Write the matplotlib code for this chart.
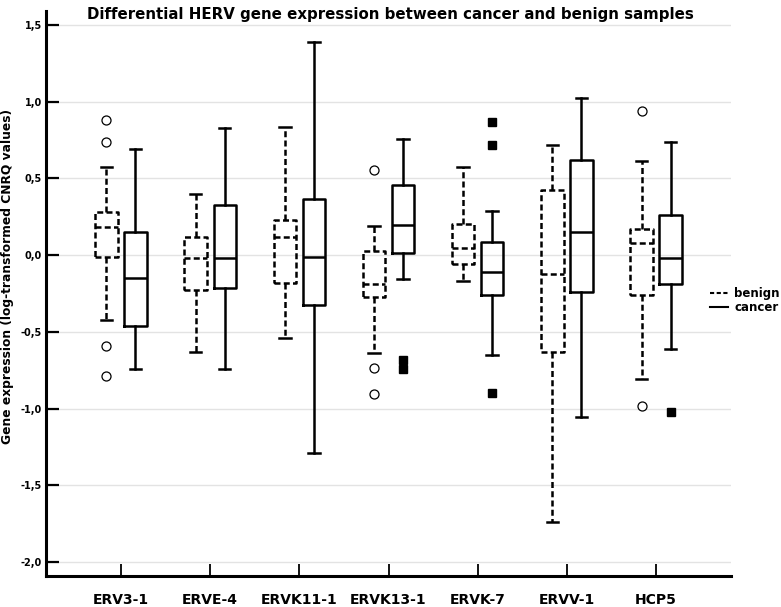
import matplotlib
matplotlib.use("Agg")
import matplotlib.pyplot as plt
from matplotlib.lines import Line2D
from matplotlib.ticker import FuncFormatter, MultipleLocator

# values
genes = ["ERV3-1", "ERVE-4", "ERVK11-1", "ERVK13-1", "ERVK-7", "ERVV-1", "HCP5"]

benign_whislo = [-0.42, -0.63, -0.54, -0.635, -0.17, -1.74, -0.81]
benign_q1 = [-0.013, -0.23, -0.18, -0.27, -0.057, -0.63, -0.26]
benign_med = [0.185, -0.02, 0.115, -0.19, 0.048, -0.12, 0.078]
benign_q3 = [0.283, 0.117, 0.23, 0.028, 0.204, 0.426, 0.172]
benign_whishi = [0.572, 0.396, 0.833, 0.187, 0.574, 0.716, 0.61]
benign_fliers = [[0.883, 0.737, -0.59, -0.79], [], [], [0.554, -0.733, -0.904],
                 [], [], [0.937, -0.98]]

cancer_whislo = [-0.741, -0.739, -1.29, -0.157, -0.65, -1.052, -0.611]
cancer_q1 = [-0.465, -0.215, -0.326, 0.015, -0.261, -0.243, -0.189]
cancer_med = [-0.146, -0.022, -0.013, 0.193, -0.109, 0.148, -0.02]
cancer_q3 = [0.15, 0.326, 0.367, 0.454, 0.085, 0.62, 0.259]
cancer_whishi = [0.69, 0.828, 1.39, 0.753, 0.285, 1.02, 0.735]
cancer_fliers = [[], [], [], [-0.68, -0.74], [0.87, 0.72, -0.896], [], [-1.024]]


def make_stats(lo, q1, med, q3, hi, fl):
    return [dict(whislo=a, q1=b, med=c, q3=d, whishi=e, fliers=f)
            for a, b, c, d, e, f in zip(lo, q1, med, q3, hi, fl)]


fig = plt.figure(figsize=(7.81, 6.07), dpi=100)
ax = fig.add_axes([0.0589, 0.0511, 0.8771, 0.9308])

dash = (0, (2.4, 1.3))
offset = 0.163
width = 0.25

benign_stats = make_stats(benign_whislo, benign_q1, benign_med, benign_q3,
                          benign_whishi, benign_fliers)
cancer_stats = make_stats(cancer_whislo, cancer_q1, cancer_med, cancer_q3,
                          cancer_whishi, cancer_fliers)

ax.bxp(benign_stats, positions=[i - offset for i in range(len(genes))],
       widths=width, manage_ticks=False,
       boxprops=dict(color="black", linewidth=1.8, linestyle=dash),
       whiskerprops=dict(color="black", linewidth=1.8, linestyle=dash),
       capprops=dict(color="black", linewidth=1.8),
       medianprops=dict(color="black", linewidth=1.8, linestyle=dash),
       flierprops=dict(marker="o", markersize=6.5, markerfacecolor="white",
                       markeredgecolor="black", markeredgewidth=0.9),
       capwidths=0.13)

ax.bxp(cancer_stats, positions=[i + offset for i in range(len(genes))],
       widths=width, manage_ticks=False,
       boxprops=dict(color="black", linewidth=1.8),
       whiskerprops=dict(color="black", linewidth=1.8),
       capprops=dict(color="black", linewidth=1.8),
       medianprops=dict(color="black", linewidth=1.8),
       flierprops=dict(marker="s", markersize=6, markerfacecolor="black",
                       markeredgecolor="black"),
       capwidths=0.13)

ax.set_xlim(-0.84, 6.84)
ax.set_ylim(-2.09, 1.59)
ax.yaxis.set_major_locator(MultipleLocator(0.5))
ax.yaxis.set_major_formatter(FuncFormatter(lambda v, p: f"{v:.1f}".replace(".", ",")))
ax.set_xticks(range(len(genes)))
ax.set_xticklabels(genes, fontsize=10, fontweight="bold")

ax.grid(axis="y", color="#e3e3e3", linewidth=1)
ax.set_axisbelow(True)
for s in ["top", "right"]:
    ax.spines[s].set_visible(False)
for s in ["left", "bottom"]:
    ax.spines[s].set_linewidth(2.2)

ax.tick_params(axis="y", direction="in", length=9.5, width=1.6, pad=3,
               labelsize=7)
for lab in ax.get_yticklabels():
    lab.set_fontweight("bold")
ax.tick_params(axis="x", direction="in", length=9, width=1.3, pad=12)

ax.set_ylabel("Gene expression (log-transformed CNRQ values)", fontsize=8.8,
              fontweight="bold")
ax.yaxis.set_label_coords(-0.046, 0.53)
fig.text(0.5, 0.988, "Differential HERV gene expression between cancer and benign samples",
         ha="center", va="top", fontsize=10.8, fontweight="bold")

handles = [Line2D([], [], color="black", linewidth=1.5, linestyle=(0, (2, 1.2))),
           Line2D([], [], color="black", linewidth=1.5)]
fig.legend(handles, ["benign", "cancer"], loc="center left",
           bbox_to_anchor=(0.898, 0.505), frameon=False, handlelength=1.6,
           handletextpad=0.5, labelspacing=0.1, borderpad=0.2,
           prop=dict(size=8.5, weight="bold"))

fig.savefig("out.png", dpi=100)
